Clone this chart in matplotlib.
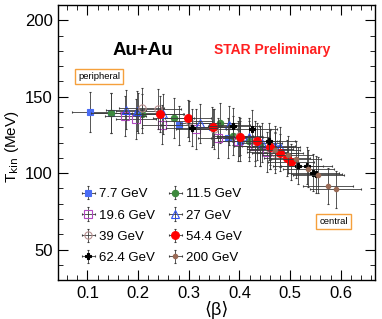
import matplotlib.pyplot as plt
from matplotlib.ticker import MultipleLocator

plt.rcParams['font.family'] = ['Liberation Sans', 'DejaVu Sans']

# <beta> and T_kin per centrality
b_77 = [0.105, 0.146, 0.200, 0.281, 0.346, 0.378, 0.401, 0.441, 0.460]
t_77 = [140.1, 139.3, 139.5, 131.2, 130.0, 123.1, 120.9, 117.6, 115.5]

b_115 = [0.147, 0.207, 0.270, 0.362, 0.387, 0.418, 0.440]
t_115 = [139.5, 139.0, 136.2, 132.9, 124.6, 120.9, 118.0]

b_196 = [0.175, 0.196, 0.247, 0.314, 0.358, 0.398, 0.430, 0.455]
t_196 = [137.3, 135.5, 131.8, 129.0, 123.1, 120.9, 118.0, 113.7]

b_27 = [0.176, 0.197, 0.250, 0.322, 0.380, 0.418, 0.445, 0.470, 0.480]
t_27 = [141.6, 140.5, 138.8, 132.5, 131.2, 123.4, 120.0, 118.0, 117.2]

b_39 = [0.207, 0.240, 0.300, 0.350, 0.400, 0.430, 0.460, 0.470]
t_39 = [142.7, 142.0, 134.0, 129.0, 124.0, 121.0, 116.0, 113.0]

b_544 = [0.243, 0.299, 0.347, 0.401, 0.434, 0.460, 0.480, 0.494, 0.502]
t_544 = [138.8, 135.8, 130.2, 123.8, 120.9, 117.2, 113.3, 110.0, 107.2]

b_624 = [0.306, 0.388, 0.424, 0.459, 0.516, 0.533, 0.546, 0.552]
t_624 = [129.7, 130.7, 129.2, 120.9, 105.0, 105.0, 100.3, 99.3]

b_200 = [0.470, 0.495, 0.512, 0.536, 0.556, 0.575, 0.590]
t_200 = [115.0, 112.0, 109.0, 102.9, 98.7, 91.5, 89.3]

labels = ['7.7 GeV', '11.5 GeV', '19.6 GeV', '27 GeV',
          '39 GeV', '54.4 GeV', '62.4 GeV', '200 GeV']
beta_err = [0.035, 0.04, 0.04, 0.04, 0.045, 0.045, 0.05, 0.05]
tkin_err = [13, 13, 13, 13, 13, 12, 12, 12]

fig = plt.figure(figsize=(3.82, 3.19), dpi=100)
ax = fig.add_axes([0.152, 0.122, 0.830, 0.862])

# (x, y, marker, color, filled, size)
series = [
    (b_77, t_77, 's', '#4a6cf5', True, 4.4),
    (b_115, t_115, 'o', '#3e8a3e', True, 4.6),
    (b_196, t_196, 's', '#b048c0', False, 5.2),
    (b_27, t_27, '^', '#3050f0', False, 5.4),
    (b_39, t_39, 'o', '#b89090', False, 5.2),
    (b_544, t_544, 'o', '#ff0000', True, 5.6),
    (b_624, t_624, 'P', '#000000', True, 4.4),
    (b_200, t_200, 'o', '#9a6a55', True, 3.2),
]

handles = []
for i, (x, y, m, c, filled, ms) in enumerate(series):
    h = ax.errorbar(x, y, xerr=beta_err[i], yerr=tkin_err[i], fmt=m,
                    color=c, mfc=c if filled else 'none', mec=c, mew=0.8,
                    ms=ms, ecolor='#3a3a3a', elinewidth=0.6, capsize=1.0,
                    capthick=0.6, label=labels[i], zorder=3 + i)
    handles.append(h)

ax.set_xlim(0.042, 0.668)
ax.set_ylim(30, 210)
ax.xaxis.set_major_locator(MultipleLocator(0.1))
ax.xaxis.set_minor_locator(MultipleLocator(0.02))
ax.yaxis.set_major_locator(MultipleLocator(50))
ax.yaxis.set_minor_locator(MultipleLocator(10))
ax.tick_params(which='both', direction='in', top=True, right=True, labelsize=12)
ax.tick_params(which='major', length=7, width=0.8, pad=4)
ax.tick_params(which='minor', length=3.5, width=0.6)
ax.set_xticks([0.1, 0.2, 0.3, 0.4, 0.5, 0.6])
ax.set_xticklabels(['0.1', '0.2', '0.3', '0.4', '0.5', '0.6'])
for s in ax.spines.values():
    s.set_linewidth(1.0)

ax.set_ylabel(r'T$_{\rm kin}$ (MeV)', fontsize=11)
ax.yaxis.set_label_coords(-0.118, 0.485)
ax.set_xlabel('⟨β⟩', fontsize=13, labelpad=0)

ax.text(0.21, 180.5, 'Au+Au', fontsize=13.5, fontweight='bold',
        ha='center', va='center')
ax.text(0.465, 180.5, 'STAR Preliminary', fontsize=10, fontweight='bold',
        color='#ff2020', ha='center', va='center')

box = dict(boxstyle='square,pad=0.35', fc='white', ec='#f5a03c', lw=1.0)
ax.text(0.123, 163.2, 'peripheral', fontsize=6.8, ha='center', va='center', bbox=box)
ax.text(0.586, 68.4, 'central', fontsize=6.8, ha='center', va='center', bbox=box)

order = [0, 2, 4, 6, 1, 3, 5, 7]
ax.legend([handles[k] for k in order], [labels[k] for k in order], ncol=2,
          frameon=False, fontsize=9.5, loc='upper left',
          bbox_to_anchor=(0.041, 0.368), handlelength=1.2, handletextpad=0.25,
          columnspacing=0.9, labelspacing=0.68, borderpad=0.2)

fig.savefig('out.png', dpi=100)
